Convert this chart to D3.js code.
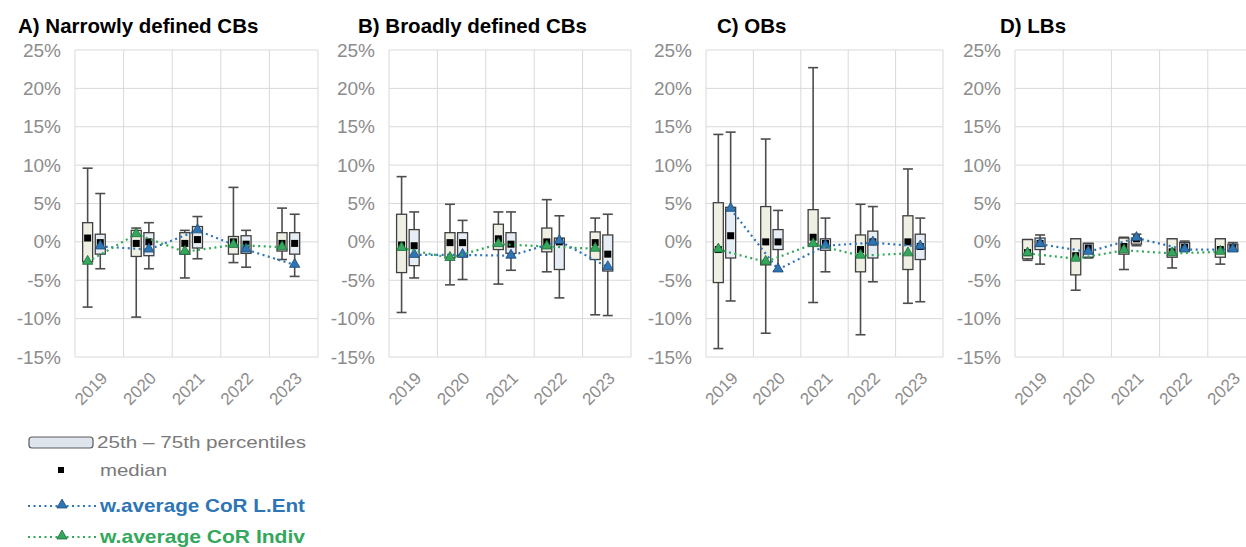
<!DOCTYPE html>
<html>
<head>
<meta charset="utf-8">
<script src="https://cdn.jsdelivr.net/npm/d3@7"></script>
<style>
  body { margin: 0; background: #fff; }
  svg { display: block; font-family: "Liberation Sans", Arial, sans-serif; }
</style>
</head>
<body>
<svg id="chart" width="1246" height="547"></svg>
<script>
const years = ["2019", "2020", "2021", "2022", "2023"];
const yTicks = [-15, -10, -5, 0, 5, 10, 15, 20, 25];

// each row: [whisker low, 25th, median, 75th, whisker high] in %
const aIndivStats = [[-8.5, -2.6, 0.5, 2.5, 9.6], [-9.8, -1.9, -0.2, 1.5, 1.8], [-4.7, -1.6, -0.2, 1.2, 1.5], [-2.7, -1.6, 0.0, 0.7, 7.1], [-2.3, -1.2, -0.2, 1.2, 4.4]];
const aEntStats = [[-3.5, -1.6, -0.1, 1.0, 6.3], [-3.5, -1.8, 0.0, 1.2, 2.5], [-2.2, -0.8, 0.3, 2.0, 3.3], [-3.3, -1.5, -0.3, 0.8, 1.5], [-4.5, -1.6, -0.2, 1.2, 3.6]];
const aIndivAvg = [-2.6, 1.0, -1.3, -0.4, -0.7];
const aEntAvg = [-0.6, -1.0, 1.5, -1.0, -3.0];

const bIndivStats = [[-9.2, -4.0, -0.4, 3.6, 8.5], [-5.6, -2.1, -0.1, 1.2, 4.9], [-5.5, -1.0, 0.4, 2.3, 3.9], [-3.9, -1.3, 0.0, 1.8, 5.5], [-9.5, -2.3, -0.1, 1.3, 3.1]];
const bEntStats = [[-4.7, -3.1, -0.5, 1.6, 3.9], [-4.9, -1.9, -0.1, 1.2, 2.8], [-3.7, -1.5, -0.3, 1.2, 3.9], [-7.3, -3.6, 0.0, 0.5, 3.4], [-9.6, -3.8, -1.6, 0.9, 3.6]];
const bIndivAvg = [-0.8, -2.1, -0.3, -0.6, -0.9];
const bEntAvg = [-1.7, -1.7, -1.8, 0.1, -3.3];

const cIndivStats = [[-13.9, -5.3, -1.0, 5.1, 14.0], [-11.9, -3.0, 0.0, 4.6, 13.4], [-7.9, -0.3, 0.6, 4.2, 22.7], [-12.1, -3.9, -1.0, 0.9, 4.9], [-8.0, -3.6, 0.0, 3.4, 9.5]];
const cEntStats = [[-7.7, -2.1, 0.8, 4.5, 14.3], [-3.8, -1.0, 0.0, 1.6, 4.1], [-3.9, -1.1, -0.2, 0.4, 3.1], [-5.2, -2.1, 0.0, 1.4, 4.6], [-7.8, -2.3, -0.6, 1.0, 3.1]];
const cIndivAvg = [-1.0, -2.6, -0.3, -1.8, -1.5];
const cEntAvg = [4.3, -3.6, -0.5, -0.1, -0.6];

const dIndivStats = [[-2.4, -2.2, -1.4, 0.3, 0.3], [-6.3, -4.3, -1.8, 0.4, 0.4], [-3.6, -1.6, -0.6, 0.5, 0.6], [-3.4, -2.0, -1.3, 0.4, 0.4], [-2.9, -2.0, -1.0, 0.4, 0.4]];
const dEntStats = [[-2.9, -1.0, -0.2, 0.5, 0.9], [-2.1, -2.0, -0.8, -0.2, -0.2], [-0.5, -0.3, 0.4, 0.5, 1.0], [-1.2, -1.1, -0.7, -0.1, 0.1], [-1.2, -1.2, -0.8, -0.3, -0.1]];
const dIndivAvg = [-1.5, -2.2, -1.1, -1.5, -1.3];
const dEntAvg = [-0.3, -1.3, 0.5, -1.0, -1.0];

const panels = [
  { title: "A) Narrowly defined CBs", titleX: 18, x0: 75, x1: 318, indiv: aIndivStats, ent: aEntStats, indivAvg: aIndivAvg, entAvg: aEntAvg },
  { title: "B) Broadly defined CBs", titleX: 358, x0: 389, x1: 631, indiv: bIndivStats, ent: bEntStats, indivAvg: bIndivAvg, entAvg: bEntAvg },
  { title: "C) OBs", titleX: 717, x0: 706, x1: 943, indiv: cIndivStats, ent: cEntStats, indivAvg: cIndivAvg, entAvg: cEntAvg },
  { title: "D) LBs", titleX: 1000, x0: 1015, x1: 1256, indiv: dIndivStats, ent: dEntStats, indivAvg: dIndivAvg, entAvg: dEntAvg },
];

const blue = "#2e75b6";
const green = "#33a85c";
const gridColor = "#d9d9d9";
const labelColor = "#8c8c8c";

const svg = d3.select("#chart");
const y = d3.scaleLinear().domain([-15, 25]).range([357, 50]);
const tri = d3.symbol().type(d3.symbolTriangle).size(46);

panels.forEach((p) => {
  const g = svg.append("g");
  const x = d3.scaleBand().domain(years).range([p.x0, p.x1]);
  const bw = x.bandwidth();
  const boxW = 10;
  const leftX = (yr) => x(yr) + bw * 0.26;
  const rightX = (yr) => x(yr) + bw * 0.52;

  // Gridlines
  g.selectAll(".hgrid")
    .data(yTicks)
    .join("line")
    .attr("x1", p.x0)
    .attr("x2", p.x1)
    .attr("y1", (d) => y(d))
    .attr("y2", (d) => y(d))
    .attr("stroke", gridColor);

  g.selectAll(".vgrid")
    .data(years.concat(["end"]))
    .join("line")
    .attr("x1", (d, i) => p.x0 + i * bw)
    .attr("x2", (d, i) => p.x0 + i * bw)
    .attr("y1", y(25))
    .attr("y2", y(-15))
    .attr("stroke", gridColor);

  // Y axis labels
  const yAxis = g.append("g")
    .attr("transform", `translate(${p.x0 - 14},0)`)
    .call(d3.axisLeft(y).tickValues(yTicks).tickSize(0).tickPadding(0).tickFormat((d) => d + "%"));
  yAxis.select(".domain").remove();
  yAxis.selectAll("text")
    .attr("fill", labelColor)
    .attr("font-size", 19)
    .attr("font-family", "'Liberation Sans', Arial, sans-serif");

  // X axis labels
  g.selectAll(".xlab")
    .data(years)
    .join("text")
    .attr("transform", (d) => `translate(${x(d) + bw * 0.5 + 5},${y(-15) + 18}) rotate(-45)`)
    .attr("text-anchor", "end")
    .attr("dy", "0.35em")
    .attr("font-size", 17)
    .attr("fill", labelColor)
    .text((d) => d);

  // Title
  svg.append("text")
    .attr("x", p.titleX)
    .attr("y", 33)
    .attr("font-size", 20.5)
    .attr("font-weight", "bold")
    .attr("fill", "#000")
    .text(p.title);

  // Boxes
  const drawBoxes = (stats, cx, fill) => {
    stats.forEach((s, i) => {
      const yr = years[i];
      const c = cx(yr);
      g.append("line")
        .attr("x1", c).attr("x2", c)
        .attr("y1", y(s[4])).attr("y2", y(s[0]))
        .attr("stroke", "#4d4d4d").attr("stroke-width", 1.6);
      [s[0], s[4]].forEach((v) => {
        g.append("line")
          .attr("x1", c - 5).attr("x2", c + 5)
          .attr("y1", y(v)).attr("y2", y(v))
          .attr("stroke", "#4d4d4d").attr("stroke-width", 1.6);
      });
      g.append("rect")
        .attr("x", c - boxW / 2)
        .attr("y", y(s[3]))
        .attr("width", boxW)
        .attr("height", Math.max(1, y(s[1]) - y(s[3])))
        .attr("fill", fill)
        .attr("stroke", "#404040")
        .attr("stroke-width", 1.3);
    });
  };
  drawBoxes(p.indiv, leftX, "#efefe3");
  drawBoxes(p.ent, rightX, "#e6edf4");

  // Median markers
  const drawMedians = (stats, cx) => {
    g.selectAll(null)
      .data(stats)
      .join("rect")
      .attr("x", (s, i) => cx(years[i]) - 3.5)
      .attr("y", (s) => y(s[2]) - 3.5)
      .attr("width", 7)
      .attr("height", 7)
      .attr("fill", "#000");
  };
  drawMedians(p.indiv, leftX);
  drawMedians(p.ent, rightX);

  // Weighted average lines
  const drawAvg = (vals, cx, color, stroke) => {
    const line = d3.line().x((v, i) => cx(years[i])).y((v) => y(v));
    g.append("path")
      .attr("d", line(vals))
      .attr("fill", "none")
      .attr("stroke", color)
      .attr("stroke-width", 2.2)
      .attr("stroke-dasharray", "2,3.5");
    g.selectAll(null)
      .data(vals)
      .join("path")
      .attr("d", tri)
      .attr("transform", (v, i) => `translate(${cx(years[i])},${y(v) - 0.5})`)
      .attr("fill", color)
      .attr("stroke", stroke)
      .attr("stroke-width", 0.8);
  };
  drawAvg(p.entAvg, rightX, blue, "#1d4a73");
  drawAvg(p.indivAvg, leftX, green, "#1e6b3a");
});

// Legend
const lg = svg.append("g");
lg.append("rect")
  .attr("x", 29).attr("y", 437).attr("width", 64).attr("height", 11).attr("rx", 3)
  .attr("fill", "#dfe5ec").attr("stroke", "#5a5a5a").attr("stroke-width", 1.2);
lg.append("text").attr("x", 97).attr("y", 448).attr("font-size", 17).attr("fill", "#7a7a7a")
  .attr("textLength", 209).attr("lengthAdjust", "spacingAndGlyphs")
  .text("25th – 75th percentiles");

lg.append("rect").attr("x", 58).attr("y", 467).attr("width", 6).attr("height", 6).attr("fill", "#000");
lg.append("text").attr("x", 100).attr("y", 476).attr("font-size", 17).attr("fill", "#7a7a7a")
  .attr("textLength", 67).attr("lengthAdjust", "spacingAndGlyphs")
  .text("median");

const legendSeries = [
  { label: "w.average CoR L.Ent", color: blue, stroke: "#1d4a73", yy: 506 },
  { label: "w.average CoR Indiv", color: green, stroke: "#1e6b3a", yy: 537 },
];
legendSeries.forEach((s) => {
  lg.append("line")
    .attr("x1", 28).attr("x2", 96).attr("y1", s.yy).attr("y2", s.yy)
    .attr("stroke", s.color).attr("stroke-width", 2.2).attr("stroke-dasharray", "2,3.5");
  lg.append("path")
    .attr("d", tri)
    .attr("transform", `translate(62,${s.yy - 1})`)
    .attr("fill", s.color).attr("stroke", s.stroke).attr("stroke-width", 0.8);
  lg.append("text")
    .attr("x", 100).attr("y", s.yy + 6)
    .attr("font-size", 18.5).attr("font-weight", "bold").attr("fill", s.color)
    .attr("textLength", 205).attr("lengthAdjust", "spacingAndGlyphs")
    .text(s.label);
});
</script>
</body>
</html>
